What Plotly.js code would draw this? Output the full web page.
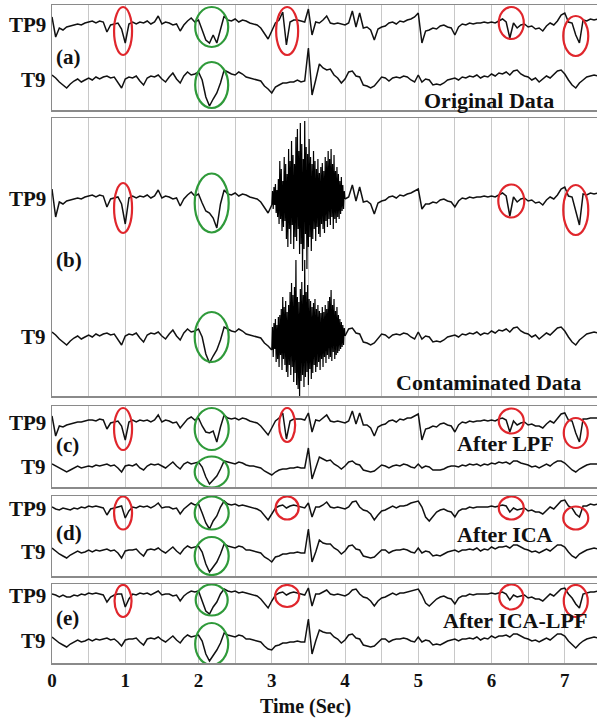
<!DOCTYPE html>
<html>
<head>
<meta charset="utf-8">
<script src="https://cdn.plot.ly/plotly-3.0.1.min.js"></script>
<style>html,body{margin:0;padding:0;background:#fff;}#chart{width:597px;height:719px;}</style>
</head>
<body>
<div id="chart"></div>
<script>
const N = null;
const SAMPLE_STEP = 0.05;          // s between samples of the main traces
const BURST_START = 3.0, BURST_STEP = 0.01;  // contamination burst samples

// (a) Original Data
const tp9_original = [
  8,-12,-3,-5,-2,-1,0,1,0,2,
  3,4,2,4,3,-7,0,1,2,-4,
  -18,1,3,1,3,2,4,1,3,9,
  1,3,2,0,1,-6,0,4,7,3,
  5,-5,-15,-18,-10,-18,-5,9,5,4,
  6,3,5,4,2,1,0,-3,-8,-14,
  -6,2,5,13,-20,3,5,5,4,3,
  16,-10,3,2,5,9,2,1,2,1,
  0,2,14,-2,12,-3,-2,-5,-15,-4,
  -2,-1,2,3,1,4,3,5,6,8,
  12,-18,-6,-5,-3,-4,-1,0,-2,-3,
  -10,-2,1,0,2,1,2,2,3,2,
  3,2,4,6,3,-13,2,-3,0,1,
  -2,-1,-4,-3,-6,-1,2,0,4,10,
  12,3,2,-10,-18,5,4,6,5,6];
const t9_original = [
  5,2,-2,-5,-8,-4,-1,1,-2,0,
  2,0,3,1,3,4,2,3,-2,-8,
  1,3,2,4,-1,-5,2,4,3,5,
  1,-2,3,7,1,-3,4,8,5,6,
  8,0,-17,-26,-19,-13,-3,10,8,6,
  5,8,6,3,2,1,0,-1,-6,-9,
  -13,-7,-5,-3,-3,-2,-2,0,-2,-1,
  32,-15,0,16,12,10,11,5,2,-3,
  1,8,9,4,3,-5,-6,-8,-6,-1,
  3,2,-1,2,3,2,4,3,0,-2,
  5,-2,1,0,-5,-4,-5,-3,0,1,
  2,0,3,2,4,3,5,2,4,3,
  6,4,7,6,8,5,9,10,6,4,
  3,0,2,-2,1,4,2,6,9,10,
  6,0,-5,-8,-3,0,3,4,5,4];

// (b) Contaminated Data (gap where the burst samples take over)
const tp9_contaminated = [
  10,-18,-3,-5,-2,-1,0,1,0,2,
  3,4,2,4,3,-8,0,1,2,-5,
  -25,1,3,1,3,2,4,1,3,9,
  1,3,2,0,1,-7,0,4,7,3,
  5,-4,-12,-14,-19,-29,-5,9,5,4,
  6,3,5,4,2,1,0,-3,-8,-14,
  -6,N,N,N,N,N,N,N,N,N,
  N,N,N,N,N,N,N,N,N,N,
  0,2,14,-2,12,-3,-2,-5,-15,-4,
  -2,-1,2,3,1,4,3,5,6,8,
  10,-10,-5,-5,-3,-4,-1,0,-2,-3,
  -8,-2,1,0,2,1,2,2,3,2,
  3,2,4,6,3,-17,2,-3,0,1,
  -2,-1,-4,-3,-6,-1,2,0,4,10,
  12,3,2,-12,-26,5,4,6,5,6];
const t9_contaminated = [
  5,2,-2,-5,-8,-4,-1,1,-2,0,
  2,0,3,1,3,4,2,3,-2,-8,
  1,3,2,4,-1,-5,2,4,3,5,
  1,-2,3,7,1,-3,4,8,5,6,
  8,0,-17,-26,-19,-13,-3,10,8,6,
  5,8,6,3,2,1,0,-1,-6,-9,
  -13,N,N,N,N,N,N,N,N,N,
  N,N,N,N,N,N,N,N,N,N,
  1,8,9,4,3,-5,-6,-8,-6,-1,
  3,2,-1,2,3,2,4,3,0,-2,
  5,-2,1,0,-5,-4,-5,-3,0,1,
  2,0,3,2,4,3,5,2,4,3,
  6,4,7,6,8,5,9,10,6,4,
  3,0,2,-2,1,4,2,6,9,10,
  6,0,-5,-8,-3,0,3,4,5,4];
const tp9_burst = [
  -6,8,-10,12,-6,15,-14,9,-18,20,
  -25,38,-20,30,-32,18,-28,42,-22,35,
  -40,25,-48,50,-30,38,-45,58,-26,44,
  -50,35,-38,62,-42,70,-30,48,-55,76,
  -45,55,-72,40,-50,78,-35,52,-70,45,
  -48,60,-38,42,-52,35,-40,48,-30,38,
  -42,30,-28,40,-35,26,-38,32,-25,36,
  -30,28,-34,42,-22,38,-28,48,-20,40,
  -26,50,-18,35,-30,44,-20,28,-24,32,
  -18,25,-20,18,-15,22,-12,14,-10,8,
  0];
const t9_burst = [
  -13,10,-20,14,-12,18,-25,12,-22,20,
  -30,22,-18,28,-33,40,-22,30,-28,36,
  -35,25,-40,32,-28,45,-38,54,-30,42,
  -45,50,-36,77,-48,40,-52,35,-60,48,
  -44,55,-38,42,-50,77,-40,45,-35,52,
  -48,38,-32,36,-42,30,-36,34,-28,38,
  -35,28,-30,32,-25,26,-33,24,-22,30,
  -30,25,-20,32,-26,28,-18,36,-22,40,
  -20,47,-24,32,-15,38,-22,26,-18,30,
  -16,22,-14,18,-12,15,-10,12,-8,9,
  1];

// (c) After LPF
const tp9_lpf = [
  7,-13,-3,-4,-2,-1,0,1,1,2,
  3,3,2,4,3,-6,0,1,2,-3,
  -17,1,3,1,3,2,3,1,3,8,
  1,3,2,0,1,-5,0,4,6,3,
  5,-3,-9,-10,-8,-19,-4,8,5,4,
  5,3,5,4,2,1,0,-3,-7,-12,
  -5,2,5,10,-16,2,4,4,4,3,
  10,-9,3,2,5,8,2,1,2,1,
  0,2,12,-1,10,-2,-2,-5,-13,-4,
  -2,-1,2,3,1,4,3,5,5,7,
  9,-17,-6,-5,-3,-4,-1,0,-2,-3,
  -9,-2,1,0,2,1,2,2,3,2,
  3,2,4,5,3,-9,2,-2,0,1,
  -2,-1,-3,-3,-5,-1,2,0,4,9,
  10,3,2,-10,-19,4,4,5,5,5];
const t9_lpf = [
  3,1,-1,-3,-5,-3,-1,1,-1,0,
  1,0,2,1,2,3,1,2,-1,-5,
  1,2,1,3,-1,-3,1,3,2,3,
  1,-1,2,5,1,-2,3,5,3,4,
  5,0,-10,-17,-13,-9,-2,6,5,4,
  3,5,4,2,1,1,0,-1,-4,-6,
  -8,-5,-3,-2,-2,-1,-1,0,-1,-1,
  19,-12,0,10,8,6,7,3,1,-2,
  1,5,6,3,2,-3,-4,-5,-4,-1,
  2,1,-1,1,2,1,3,2,0,-1,
  3,-1,1,0,-3,-3,-3,-2,0,1,
  1,0,2,1,3,2,3,1,3,2,
  4,3,5,4,5,3,6,6,4,3,
  2,0,1,-1,1,3,1,4,6,6,
  4,0,-3,-5,-2,0,2,3,3,3];

// (d) After ICA
const tp9_ica = [
  2,0,-1,1,0,-1,1,0,2,1,
  3,2,3,2,1,-6,0,1,2,3,
  -9,-2,2,1,3,2,3,1,3,6,
  1,2,2,0,1,-5,0,3,6,4,
  5,-4,-14,-20,-12,-7,2,8,5,4,
  5,3,4,3,2,1,0,-2,-7,-11,
  -5,1,3,4,1,3,4,3,2,1,
  6,-8,2,2,4,7,2,1,2,1,
  0,2,7,8,2,-1,-2,-5,-11,-6,
  -2,-1,1,3,1,3,3,4,6,7,
  8,2,-8,-12,-7,-3,-1,0,-2,-3,
  -8,-2,0,0,2,1,2,2,2,2,
  3,2,3,4,3,-3,1,-1,0,1,
  -2,-1,-3,-3,-5,-1,2,0,4,8,
  9,3,1,-5,-8,3,3,5,4,5];
const t9_ica = [
  4,1,-2,-4,-6,-3,-1,1,-1,0,
  2,0,2,1,2,3,1,2,-1,-6,
  1,2,2,3,-1,-4,2,3,2,4,
  1,-1,2,5,1,-2,3,6,4,5,
  6,0,-12,-20,-15,-10,-2,8,6,5,
  4,6,5,2,2,1,0,-1,-5,-7,
  -10,-5,-4,-2,-2,-1,-1,0,-1,-1,
  23,-10,0,12,9,8,8,4,2,-2,
  1,6,7,3,2,-4,-5,-6,-5,-1,
  2,2,-1,1,2,2,3,2,0,-1,
  4,-1,1,0,-4,-3,-4,-2,0,1,
  2,0,2,2,3,2,4,1,3,2,
  5,3,5,5,6,4,7,7,5,3,
  2,0,1,-1,1,3,1,4,7,7,
  5,0,-4,-6,-2,0,2,3,4,3];

// (e) After ICA-LPF
const tp9_icalpf = [
  2,1,-1,1,-1,-1,1,0,2,1,
  3,2,3,2,1,-6,-1,1,2,2,
  -11,-3,2,1,3,2,3,1,3,5,
  1,2,2,0,1,-5,0,3,5,4,
  5,-5,-15,-18,-11,-6,2,7,5,4,
  5,3,4,3,2,1,0,-3,-8,-12,
  -5,1,3,4,1,3,4,3,2,1,
  8,-10,2,2,4,6,2,1,2,1,
  0,2,6,7,2,-1,-2,-5,-10,-5,
  -2,-1,1,3,1,3,3,4,5,6,
  7,1,-7,-10,-6,-3,-1,0,-2,-3,
  -8,-2,0,0,2,1,2,2,2,2,
  3,2,3,4,2,-4,1,-1,0,1,
  -2,-1,-3,-3,-5,-1,2,0,4,7,
  8,2,-2,-8,-12,2,3,4,4,5];
const t9_icalpf = [
  4,1,-2,-4,-6,-3,-1,1,-1,0,
  2,0,2,1,2,3,1,2,-1,-5,
  1,2,2,3,-1,-4,2,3,2,4,
  1,-1,2,5,1,-2,3,6,4,5,
  6,0,-13,-20,-15,-9,-2,8,6,5,
  4,6,5,2,2,1,0,-1,-5,-8,
  -9,-5,-4,-2,-2,-1,-1,0,-1,-1,
  22,-13,0,11,9,8,8,4,2,-2,
  1,6,7,3,2,-4,-5,-6,-5,-1,
  2,2,-1,1,2,2,3,2,0,-1,
  4,-1,1,0,-4,-3,-4,-2,0,1,
  2,0,2,2,3,2,4,1,3,2,
  5,3,5,5,6,4,7,7,5,3,
  2,0,1,-1,1,3,1,4,7,7,
  5,0,-4,-7,-3,0,2,3,4,3];

// marked events (s)
const redEvents = {r1: 0.97, r3: 3.21, r6: 6.27, r7: 7.15};
const greenEvents = {g: 2.18};

// x-axis tick labels
const tickValues = [0,0.5,1,1.5,2,2.5,3,3.5,4,4.5,5,5.5,6,6.5,7];
const tickLabels = ['0','','1','','2','','3','','4','','5','','6','','7'];

// ---------------- LAYOUT / DRAWING ----------------
const FONT = 'Liberation Serif, Times New Roman, serif';
const X_MAX = 7.44;
const PLOT_LEFT = 52, PLOT_W = 545;
const PX_PER_SEC = PLOT_W / X_MAX;
const PLOT_TOP = 5, PLOT_BOTTOM = 663, PLOT_H = PLOT_BOTTOM - PLOT_TOP;
const RED = '#e0262c', GREEN = '#2f9a3a';

const sampleTimes = (n, t0, dt) => Array.from({length: n}, (_, i) => +(t0 + i * dt).toFixed(4));

const panels = [
  {ax: 2, top: 5, bottom: 110, tp9Px: 25, t9Px: 80, tp9: tp9_original, t9: t9_original,
   letter: '(a)', letterPx: 57, title: 'Original Data', titleRightPx: 556, titlePx: 100,
   marks: [['r1','tp9',26,48,18],['g','tp9',22,40,33],['g','t9',80,46,33],['r3','tp9',26,48,22],['r6','tp9',18,32,25],['r7','tp9',31,40,25]]},
  {ax: 3, top: 118, bottom: 396, tp9Px: 199, t9Px: 337, tp9: tp9_contaminated, t9: t9_contaminated,
   tp9Burst: tp9_burst, t9Burst: t9_burst,
   letter: '(b)', letterPx: 260, title: 'Contaminated Data', titleRightPx: 583, titlePx: 382,
   marks: [['r1','tp9',90,50,18],['g','tp9',85,59,34],['g','t9',219,50,34],['r6','tp9',83,33,26],['r7','tp9',92,50,25]]},
  {ax: 4, top: 406, bottom: 487, tp9Px: 423, t9Px: 467, tp9: tp9_lpf, t9: t9_lpf,
   letter: '(c)', letterPx: 445, title: 'After LPF', titleRightPx: 556, titlePx: 443,
   marks: [['r1','tp9',23,42,18],['g','tp9',23,42,34],['g','t9',66,31,34],['r3','tp9',19,34,16],['r6','tp9',15,25,25],['r7','tp9',27,30,24]]},
  {ax: 5, top: 496, bottom: 576, tp9Px: 509, t9Px: 552, tp9: tp9_ica, t9: t9_ica,
   letter: '(d)', letterPx: 533, title: 'After ICA', titleRightPx: 555, titlePx: 534,
   marks: [['r1','tp9',17,33,18],['g','tp9',17,33,34],['g','t9',60,38,34],['r3','tp9',12,23,23],['r6','tp9',12,23,25],['r7','tp9',22,23,25]]},
  {ax: 1, top: 584, bottom: 663, tp9Px: 596, t9Px: 641, tp9: tp9_icalpf, t9: t9_icalpf,
   letter: '(e)', letterPx: 618, title: 'After ICA-LPF', titleRightPx: 589, titlePx: 620,
   marks: [['r1','tp9',17,32,17],['g','tp9',16,31,32],['g','t9',60,42,33],['r3','tp9',12,22,24],['r6','tp9',13,25,24],['r7','tp9',17,32,24]]}
];

const traces = [], shapes = [], annotations = [];
const layout = {
  width: 597, height: 719,
  margin: {l: PLOT_LEFT, r: 0, t: PLOT_TOP, b: 719 - PLOT_BOTTOM},
  paper_bgcolor: '#ffffff', plot_bgcolor: '#ffffff',
  showlegend: false, shapes, annotations
};

const lineStyle = {color: '#111111', width: 1.5};

panels.forEach(p => {
  const xa = p.ax === 1 ? 'x' : 'x' + p.ax;
  const ya = p.ax === 1 ? 'y' : 'y' + p.ax;
  const xKey = p.ax === 1 ? 'xaxis' : 'xaxis' + p.ax;
  const yKey = p.ax === 1 ? 'yaxis' : 'yaxis' + p.ax;
  const H = p.bottom - p.top;
  const yOf = px => -(px - p.top);

  layout[xKey] = {
    anchor: ya, domain: [0, 1], range: [0, X_MAX],
    tickmode: 'array', tickvals: tickValues, ticktext: tickLabels,
    showticklabels: p.ax === 1, ticks: '',
    tickfont: {family: FONT, size: 19, color: '#111', weight: 'bold'},
    showgrid: true, gridcolor: '#c8c8c8', gridwidth: 1,
    showline: true, mirror: true, linecolor: '#8a8a8a', linewidth: 1.5,
    zeroline: false, fixedrange: true
  };
  layout[yKey] = {
    anchor: xa, domain: [(PLOT_BOTTOM - p.bottom) / PLOT_H, (PLOT_BOTTOM - p.top) / PLOT_H],
    range: [-H, 0], showline: true, mirror: true, linecolor: '#8a8a8a', linewidth: 1.5,
    showgrid: false, zeroline: false, showticklabels: false, ticks: '', fixedrange: true
  };

  const chans = [['tp9', p.tp9, p.tp9Px, p.tp9Burst], ['t9', p.t9, p.t9Px, p.t9Burst]];
  chans.forEach(([name, vals, basePx, burst]) => {
    const base = yOf(basePx);
    traces.push({
      type: 'scatter', mode: 'lines', xaxis: xa, yaxis: ya,
      x: sampleTimes(vals.length, 0, SAMPLE_STEP),
      y: vals.map(v => v === null ? null : base + v),
      line: lineStyle, connectgaps: false, hoverinfo: 'skip'
    });
    if (burst) {
      traces.push({
        type: 'scatter', mode: 'lines', xaxis: xa, yaxis: ya,
        x: sampleTimes(burst.length, BURST_START, BURST_STEP),
        y: burst.map(v => base + v),
        line: {color: '#000', width: 1.2}, hoverinfo: 'skip'
      });
    }
    annotations.push({
      xref: 'paper', yref: ya, x: 0, y: base, xanchor: 'right', yanchor: 'middle', xshift: -4,
      text: '<b>' + (name === 'tp9' ? 'TP9' : 'T9') + '</b>', showarrow: false,
      font: {family: FONT, size: 21, color: '#111'}
    });
  });

  annotations.push({
    xref: 'paper', yref: ya, x: 0, y: yOf(p.letterPx), xanchor: 'left', yanchor: 'middle', xshift: 2,
    text: '<b>' + p.letter + '</b>', showarrow: false, font: {family: FONT, size: 21, color: '#111'}
  });
  annotations.push({
    xref: xa, yref: ya, x: (p.titleRightPx - PLOT_LEFT) / PX_PER_SEC, y: yOf(p.titlePx),
    xanchor: 'right', yanchor: 'middle',
    text: '<b>' + p.title + '</b>', showarrow: false, font: {family: FONT, size: 22, color: '#111'}
  });

  p.marks.forEach(([ev, ch, cyPx, hPx, wPx]) => {
    const isRed = ev.startsWith('r');
    const tc = isRed ? redEvents[ev] : greenEvents[ev];
    const halfW = (wPx / 2) / PX_PER_SEC;
    shapes.push({
      type: 'circle', xref: xa, yref: ya,
      x0: tc - halfW, x1: tc + halfW,
      y0: -(cyPx + hPx / 2), y1: -(cyPx - hPx / 2),
      line: {color: isRed ? RED : GREEN, width: 2.2}, fillcolor: 'rgba(0,0,0,0)'
    });
  });
});

annotations.push({
  xref: 'x', yref: 'paper', x: (305 - PLOT_LEFT) / PX_PER_SEC, y: (PLOT_BOTTOM - 706) / PLOT_H,
  xanchor: 'center', yanchor: 'middle', showarrow: false,
  text: '<b>Time (Sec)</b>', font: {family: FONT, size: 20, color: '#111'}
});

Plotly.newPlot('chart', traces, layout, {staticPlot: true, displayModeBar: false});
</script>
</body>
</html>
